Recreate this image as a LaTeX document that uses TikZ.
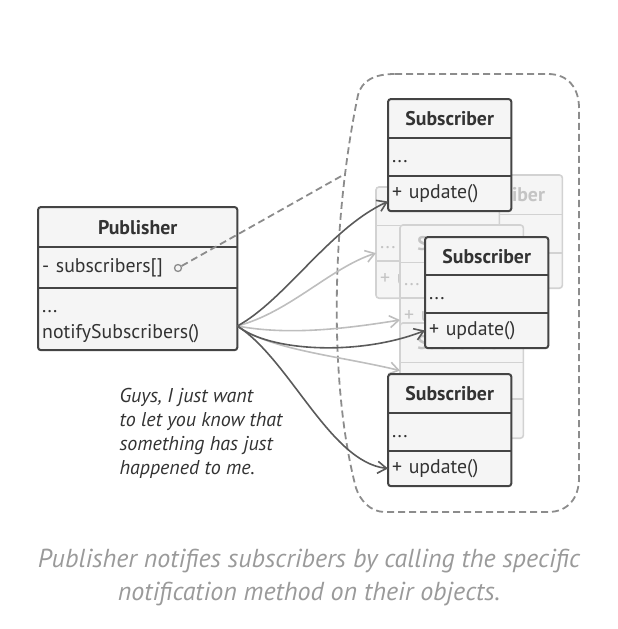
\documentclass[tikz,border=0pt]{standalone}
\usepackage{fontspec}
\setmainfont{PT Sans}
\usepackage{tikz}
\usetikzlibrary{arrows.meta, positioning}
\definecolor{BoxFill}{HTML}{F5F5F5}
\definecolor{InkDark}{HTML}{444444}
\definecolor{TextDark}{HTML}{333333}
\definecolor{FadeLine}{HTML}{D2D2D2}
\definecolor{FadeText}{HTML}{C4C4C4}
\definecolor{ArrowDark}{HTML}{5A5A5A}
\definecolor{ArrowLight}{HTML}{BEBEBE}
\definecolor{DashGrey}{HTML}{8C8C8C}
\definecolor{CaptionGrey}{HTML}{9A9A9A}
\newcommand{\cellfont}{\fontsize{19.8}{26}\selectfont}

\begin{document}
\begin{tikzpicture}[x=1pt, y=-1pt,
    cellbase/.style={fill=BoxFill, text=TextDark, font=\cellfont, inner xsep=4pt,
                     inner ysep=0pt, text width=115pt, align=left, anchor=north},
    cell/.style={cellbase, execute at begin node=\strut},
    titlecell/.style={cellbase, align=center, font=\cellfont\bfseries,
                      minimum height=39pt, anchor=north west},
    fadecell/.style={cell, text=FadeText},
    fadetitle/.style={titlecell, text=FadeText},
    boxline/.style={draw=InkDark, line width=2pt},
    fadeline/.style={draw=FadeLine, line width=1.6pt},
    notify/.style={draw=ArrowDark, line width=1.6pt,
                   -{Straight Barb[length=9pt,width=12pt,line width=1.6pt]}},
    notifyfaint/.style={notify, draw=ArrowLight},
    dashlink/.style={draw=DashGrey, line width=1.8pt, dash pattern=on 7pt off 4pt}]
    \useasboundingbox (0,0) rectangle (618,629);

    % Group of subscribers
    \draw[dashlink] (395,74) -- (548,74) .. controls (568,74) and (579,88) .. (579,108)
        -- (579,478) .. controls (579,498) and (568,512) .. (548,512)
        -- (385,512) .. controls (370,512) and (360,500) .. (356,488)
        .. controls (330,390) and (330,230) .. (358,95)
        .. controls (362,80) and (375,74) .. (395,74) -- cycle;
    \coordinate (grp) at (345,174);

    % Faded subscribers (back)
    \node[fadetitle] (f2t) at (439,175) {Subscriber};
    \node[fadecell, minimum height=38pt, below=0pt of f2t] (f2a) {...};
    \node[fadecell, minimum height=35pt, below=0pt of f2a] (f2b) {+ update()};
    \draw[fadeline] (f2a.north west) -- (f2a.north east) (f2b.north west) -- (f2b.north east);
    \draw[fadeline, rounded corners=3pt] (f2t.north west) rectangle (f2b.south east);

    \node[fadetitle, minimum height=38pt] (f1t) at (376,187) {};
    \node[fadecell, minimum height=35pt, below=0pt of f1t] (f1a) {...};
    \node[fadecell, minimum height=37pt, below=0pt of f1a] (f1b) {+ update()};
    \draw[fadeline] (f1a.north west) -- (f1a.north east) (f1b.north west) -- (f1b.north east);
    \draw[fadeline, rounded corners=3pt] (f1t.north west) rectangle (f1b.south east);

    \node[fadetitle, minimum height=37pt] (f3t) at (400,225) {Subscriber};
    \node[fadecell, minimum height=35pt, below=0pt of f3t] (f3a) {...};
    \node[fadecell, minimum height=36pt, below=0pt of f3a] (f3b) {+ update()};
    \draw[fadeline] (f3a.north west) -- (f3a.north east) (f3b.north west) -- (f3b.north east);
    \draw[fadeline, rounded corners=3pt] (f3t.north west) rectangle (f3b.south east);

    \node[fadetitle, minimum height=39pt] (f4t) at (400,323) {Subscriber};
    \node[fadecell, minimum height=36pt, below=0pt of f4t] (f4a) {...};
    \node[fadecell, minimum height=39pt, below=0pt of f4a] (f4b) {+ update()};
    \draw[fadeline] (f4a.north west) -- (f4a.north east) (f4b.north west) -- (f4b.north east);
    \draw[fadeline, rounded corners=3pt] (f4t.north west) rectangle (f4b.south east);

    % Publisher
    \node[titlecell, text width=191pt, minimum height=40pt] (pt) at (38,207) {Publisher};
    \node[cell, text width=191pt, minimum height=40pt, below=0pt of pt] (ps) {- subscribers[]};
    \node[cell, text width=191pt, minimum height=62pt, below=0pt of ps] (pm) {...\\notifySubscribers()};
    \draw[boxline] (ps.north west) -- (ps.north east) (pm.north west) -- (pm.north east);
    \draw[boxline, rounded corners=3pt] (pt.north west) rectangle (pm.south east);
    \node[circle, draw=DashGrey, line width=1.3pt, inner sep=0pt, minimum size=7pt] (ptr) at (178,268) {};
    \draw[dashlink] (ptr) -- (grp);
    \coordinate (src) at ([yshift=-7pt]pm.east);

    % Faint notifications
    \draw[notifyfaint] (src) .. controls (290,312) and (330,268) .. ([yshift=-10pt]f1a.west);
    \draw[notifyfaint] (src) .. controls (290,336) and (350,328) .. ([yshift=-4pt]f3b.west);
    \draw[notifyfaint] (src) .. controls (270,350) and (340,356) .. ([yshift=10pt]f4a.west);

    % Subscribers
    \node[titlecell] (s1t) at (388,99) {Subscriber};
    \node[cell, minimum height=37pt, below=0pt of s1t] (s1a) {...};
    \node[cell, minimum height=35pt, below=0pt of s1a] (s1b) {+ update()};
    \draw[boxline] (s1a.north west) -- (s1a.north east) (s1b.north west) -- (s1b.north east);
    \draw[boxline, rounded corners=3pt] (s1t.north west) rectangle (s1b.south east);

    \node[titlecell, minimum height=38pt] (s2t) at (425,237) {Subscriber};
    \node[cell, minimum height=37pt, below=0pt of s2t] (s2a) {...};
    \node[cell, minimum height=35pt, below=0pt of s2a] (s2b) {+ update()};
    \draw[boxline] (s2a.north west) -- (s2a.north east) (s2b.north west) -- (s2b.north east);
    \draw[boxline, rounded corners=3pt] (s2t.north west) rectangle (s2b.south east);

    \node[titlecell] (s3t) at (388,374) {Subscriber};
    \node[cell, minimum height=37pt, below=0pt of s3t] (s3a) {...};
    \node[cell, minimum height=35pt, below=0pt of s3a] (s3b) {+ update()};
    \draw[boxline] (s3a.north west) -- (s3a.north east) (s3b.north west) -- (s3b.north east);
    \draw[boxline, rounded corners=3pt] (s3t.north west) rectangle (s3b.south east);

    % Notifications
    \draw[notify] (src) .. controls (285,300) and (330,228) .. ([yshift=-8pt]s1b.west);
    \draw[notify] (src) .. controls (270,352) and (360,356) .. (s2b.west);
    \draw[notify] (src) .. controls (290,360) and (330,462) .. (s3b.west);

    % Texts
    \node[anchor=north west, align=left, text=TextDark, font=\fontsize{20}{24}\selectfont\itshape]
        (note) at (116,385) {Guys, I just want\\to let you know that\\something has just\\happened to me.};
    \node[align=center, text=CaptionGrey, font=\fontsize{26}{33}\selectfont\itshape]
        (caption) at (309,577) {Publisher notifies subscribers by calling the specific\\notification method on their objects.};
\end{tikzpicture}
\end{document}
